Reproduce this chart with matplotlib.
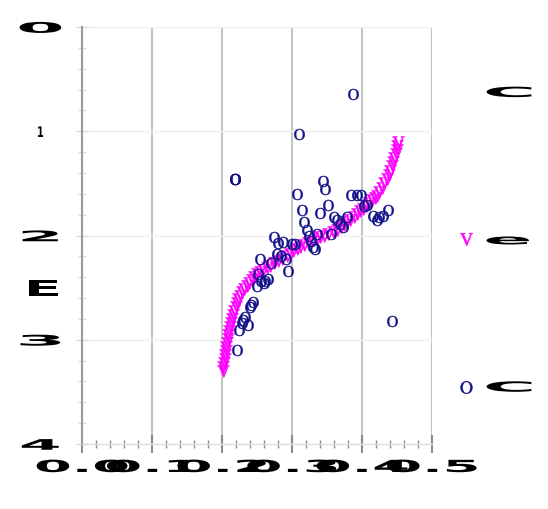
import matplotlib
matplotlib.use("Agg")
import matplotlib.pyplot as plt
from matplotlib.lines import Line2D
from matplotlib.patheffects import AbstractPathEffect
from matplotlib.ticker import MultipleLocator
from matplotlib.transforms import Affine2D

plt.rcParams["mathtext.fontset"] = "stix"

OBS_X = [0.3876, 0.3104, 0.2186, 0.2186, 0.2188, 0.3439, 0.3476, 0.3071, 0.3839, 0.3924,
         0.3990, 0.3139, 0.3514, 0.3400, 0.3171, 0.4033, 0.4067, 0.4371, 0.4304, 0.4243,
         0.4161, 0.4210, 0.3779, 0.3600, 0.3639, 0.3686, 0.3729, 0.3557, 0.3210, 0.3236,
         0.3350, 0.3271, 0.3296, 0.3329, 0.3043, 0.3000, 0.2871, 0.2807, 0.2743, 0.2943,
         0.2914, 0.2847, 0.2790, 0.2700, 0.2547, 0.2519, 0.2550, 0.2621, 0.2661, 0.2607,
         0.2507, 0.2447, 0.2421, 0.2393, 0.2329, 0.2304, 0.2279, 0.2376, 0.2246, 0.2221,
         0.4433]
OBS_Y = [0.643, 1.026, 1.458, 1.458, 1.455, 1.474, 1.554, 1.605, 1.612, 1.612,
         1.609, 1.751, 1.703, 1.784, 1.871, 1.720, 1.703, 1.755, 1.810, 1.825,
         1.816, 1.856, 1.818, 1.818, 1.856, 1.885, 1.921, 1.986, 1.952, 2.007,
         1.981, 2.053, 2.115, 2.125, 2.077, 2.084, 2.058, 2.072, 2.010, 2.345,
         2.221, 2.200, 2.177, 2.264, 2.230, 2.369, 2.434, 2.436, 2.422, 2.456,
         2.489, 2.641, 2.667, 2.686, 2.777, 2.808, 2.835, 2.859, 2.906, 3.094,
         2.817]

# fitted curve
FIT_X = [0.2014, 0.2021, 0.2029, 0.2036, 0.2043, 0.2051, 0.2060, 0.2070, 0.2080, 0.2090,
         0.2101, 0.2114, 0.2127, 0.2141, 0.2157, 0.2174, 0.2193, 0.2213, 0.2234, 0.2259,
         0.2286, 0.2317, 0.2351, 0.2389, 0.2426, 0.2461, 0.2496, 0.2543, 0.2590, 0.2637,
         0.2686, 0.2743, 0.2800, 0.2857, 0.2924, 0.2971, 0.3021, 0.3071, 0.3114, 0.3171,
         0.3229, 0.3286, 0.3353, 0.3407, 0.3464, 0.3521, 0.3586, 0.3643, 0.3693, 0.3740,
         0.3781, 0.3829, 0.3879, 0.3929, 0.3974, 0.4019, 0.4061, 0.4104, 0.4143, 0.4179,
         0.4210, 0.4246, 0.4280, 0.4317, 0.4353, 0.4380, 0.4406, 0.4429, 0.4447, 0.4464,
         0.4480, 0.4494, 0.4507, 0.4519]
FIT_Y = [3.300, 3.261, 3.223, 3.185, 3.146, 3.108, 3.070, 3.031, 2.993, 2.954,
         2.916, 2.878, 2.839, 2.801, 2.763, 2.724, 2.686, 2.647, 2.609, 2.576,
         2.542, 2.509, 2.480, 2.454, 2.425, 2.397, 2.369, 2.349, 2.330, 2.310,
         2.290, 2.267, 2.244, 2.221, 2.194, 2.174, 2.153, 2.130, 2.113, 2.093,
         2.074, 2.055, 2.034, 2.019, 2.004, 1.988, 1.969, 1.945, 1.923, 1.899,
         1.873, 1.849, 1.823, 1.794, 1.769, 1.746, 1.717, 1.688, 1.662, 1.640,
         1.618, 1.579, 1.540, 1.498, 1.458, 1.418, 1.377, 1.338, 1.298, 1.259,
         1.221, 1.183, 1.144, 1.106]

X_TICKS = [0.0, 0.1, 0.2, 0.3, 0.4, 0.5]
X_TICK_LABELS = ["0.0", "0.1", "0.2", "0.3", "0.4", "0.5"]
Y_TICKS = [0, 1, 2, 3, 4]
Y_TICK_LABELS = ["0", "1", "2", "3", "4"]
Y_LABEL = "E"
LEGEND_TITLE = "C"
FIT_LABEL = "e"
OBS_LABEL = "C"

OBS_COLOR = "#14148a"
FIT_COLOR = "#ff00ff"


class Stretch(AbstractPathEffect):
    """Draw a text path scaled by (sx, sy) about a point of its own box."""

    def __init__(self, sx, sy=1.0, anchor=0.5):
        super().__init__()
        self.sx, self.sy, self.anchor = sx, sy, anchor

    def draw_path(self, renderer, gc, tpath, affine, rgbFace=None):
        ext = tpath.get_extents()
        cx = ext.x0 + self.anchor * ext.width
        cy = ext.y0 + 0.5 * ext.height
        squash = (Affine2D().translate(-cx, -cy)
                  .scale(self.sx, self.sy).translate(cx, cy))
        renderer.draw_path(gc, tpath, squash + affine, rgbFace)


fig = plt.figure(figsize=(5.48, 5.10), dpi=100)
ax = fig.add_axes([82 / 548, 1 - 445 / 510, 350 / 548, 417 / 510])

ax.plot(FIT_X, FIT_Y, linestyle="none", marker=r"$\mathrm{V}$", markersize=8.5,
        color=FIT_COLOR, mew=0.4, zorder=3)
ax.plot(OBS_X, OBS_Y, linestyle="none", marker=r"$\mathrm{O}$", markersize=8,
        color=OBS_COLOR, mew=0.3, zorder=4)

ax.set_xlim(0, 0.5)
ax.set_ylim(4, 0)
ax.set_xticks(X_TICKS)
ax.set_xticklabels(X_TICK_LABELS, fontsize=10, fontweight="bold")
ax.set_yticks(Y_TICKS)
ax.set_yticklabels(Y_TICK_LABELS, fontsize=10, fontweight="bold")
ax.xaxis.set_minor_locator(MultipleLocator(0.02))
ax.yaxis.set_minor_locator(MultipleLocator(0.2))

ax.tick_params(axis="x", which="major", direction="inout", length=13, width=1.5,
               color="#8c8c8c", pad=5)
ax.tick_params(axis="x", which="minor", direction="inout", length=6, width=1,
               color="#8c8c8c")
ax.tick_params(axis="y", which="major", direction="inout", length=9, width=1,
               color="#dddddd", pad=22)
ax.tick_params(axis="y", which="minor", direction="inout", length=6, width=1,
               color="#dddddd")

ax.grid(True, axis="x", color="#c4c4c4", linewidth=1.5)
ax.grid(True, axis="y", color="#efefef", linewidth=1)
ax.set_axisbelow(True)
for side in ("top", "right"):
    ax.spines[side].set_visible(False)
ax.spines["left"].set_color("#9a9a9a")
ax.spines["left"].set_linewidth(1.5)
ax.spines["bottom"].set_color("#dddddd")
ax.spines["bottom"].set_linewidth(1)

# the labels come out squashed flat and drawn very wide
for lab in ax.get_xticklabels():
    lab.set_path_effects([Stretch(3.9, 1.2)])
for lab, sx in zip(ax.get_yticklabels(), [5.0, 0.7, 4.8, 5.2, 4.4]):
    lab.set_path_effects([Stretch(sx, 1.05)])

ax.set_ylabel(Y_LABEL, rotation=0, fontsize=10, fontweight="bold",
              ha="center", va="center")
ax.yaxis.set_label_coords(-0.111, 0.372)
ax.yaxis.label.set_path_effects([Stretch(4.0, 1.6)])

handles = [Line2D([], [], linestyle="none"),
           Line2D([], [], linestyle="none", marker=r"$\mathrm{V}$", markersize=9,
                  color=FIT_COLOR, mew=0.4),
           Line2D([], [], linestyle="none", marker=r"$\mathrm{O}$", markersize=9,
                  color=OBS_COLOR, mew=0.3)]
leg = fig.legend(handles, [LEGEND_TITLE, FIT_LABEL, OBS_LABEL], loc="upper left",
                 bbox_to_anchor=(452 / 548, 1 - 80 / 510), frameon=False,
                 prop={"size": 10, "weight": "bold"}, labelspacing=9.6,
                 handlelength=1.0, handletextpad=0.94, borderpad=0)
for txt in leg.get_texts():
    txt.set_path_effects([Stretch(5.2, 1.0, anchor=0.0)])

fig.savefig("out.png", dpi=100)
